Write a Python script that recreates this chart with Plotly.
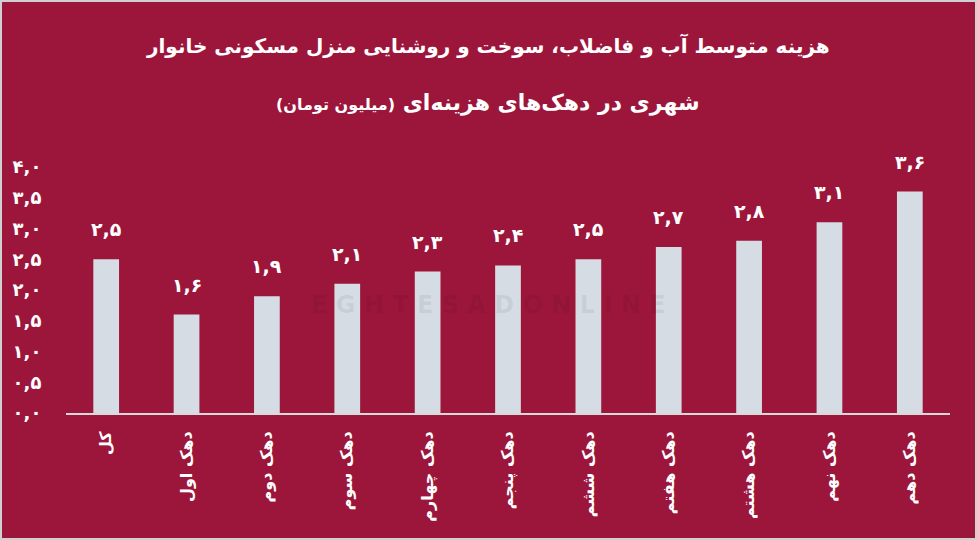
import plotly.graph_objects as go

categories = ["کل", "دهک اول", "دهک دوم", "دهک سوم", "دهک چهارم", "دهک پنجم",
              "دهک ششم", "دهک هفتم", "دهک هشتم", "دهک نهم", "دهک دهم"]
values = [2.5, 1.6, 1.9, 2.1, 2.3, 2.4, 2.5, 2.7, 2.8, 3.1, 3.6]
value_labels = ["۲,۵", "۱,۶", "۱,۹", "۲,۱", "۲,۳", "۲,۴", "۲,۵", "۲,۷", "۲,۸", "۳,۱", "۳,۶"]
y_tick_vals = [0, 0.5, 1, 1.5, 2, 2.5, 3, 3.5, 4]
y_tick_text = ["۰,۰", "۰,۵", "۱,۰", "۱,۵", "۲,۰", "۲,۵", "۳,۰", "۳,۵", "۴,۰"]
title_line1 = "هزینه متوسط آب و فاضلاب، سوخت و روشنایی منزل مسکونی خانوار"
title_line2 = "شهری در دهک‌های هزینه‌ای"
title_unit = "(میلیون تومان)"

BG = "#9C163B"
BAR = "#D6DCE4"
FONT = "DejaVu Sans"

W, H = 977, 540
ML, MR, MT, MB = 66, 27, 167, 127

fig = go.Figure()
fig.add_trace(go.Bar(x=categories, y=values, marker_color=BAR, marker_line_width=0,
                     hoverinfo="skip"))

for c, v, t in zip(categories, values, value_labels):
    fig.add_annotation(x=c, y=v, text="<b>" + t + "</b>", showarrow=False, yshift=30,
                       font=dict(family=FONT, size=19, color="white"), xref="x", yref="y")

pw = W - ML - MR
ph = H - MT - MB
# title
fig.add_annotation(xref="paper", yref="paper", x=(488 - ML) / pw, y=(H - MB - 45) / ph,
                   text="<b>" + title_line1 + "</b>", showarrow=False,
                   font=dict(family=FONT, size=20, color="white"), xanchor="center", yanchor="middle")
fig.add_annotation(xref="paper", yref="paper", x=(488 - ML) / pw, y=(H - MB - 103) / ph,
                   text="<b>" + title_line2 + " <span style='font-size:16px'>" + title_unit + "</span></b>",
                   showarrow=False,
                   font=dict(family=FONT, size=22, color="white"), xanchor="center", yanchor="middle")

# faint watermark
fig.add_annotation(xref="paper", yref="paper", x=(488 - ML) / pw, y=(H - MB - 305) / ph,
                   text="<b>E G H T E S A D O N L I N E</b>", showarrow=False,
                   font=dict(family=FONT, size=24, color="rgba(0,0,0,0.07)"),
                   xanchor="center", yanchor="middle")

# frame
fig.add_shape(type="rect", xref="paper", yref="paper",
              x0=(1 - ML) / pw, x1=(W - 1 - ML) / pw,
              y0=(H - MB - (H - 1)) / ph, y1=(H - MB - 1) / ph,
              line=dict(color="#D0D0D0", width=2), layer="above")

fig.update_layout(
    width=W, height=H,
    margin=dict(l=ML, r=MR, t=MT, b=MB, pad=0),
    paper_bgcolor=BG, plot_bgcolor=BG,
    bargap=0.68,
    showlegend=False,
    font=dict(family=FONT, color="white"),
)
fig.update_xaxes(showgrid=False, zeroline=False, showline=True, linecolor="#D9D9D9", linewidth=2,
                 tickangle=-90, ticks="outside", ticklen=10, tickcolor="rgba(0,0,0,0)",
                 tickprefix="<b>", ticksuffix="</b>",
                 tickfont=dict(family=FONT, size=16, color="white"))
fig.update_yaxes(range=[0, 4], showgrid=False, zeroline=False, showline=False,
                 tickvals=y_tick_vals, ticktext=["<b>" + t + "</b>" for t in y_tick_text],
                 ticks="outside", ticklen=20, tickcolor="rgba(0,0,0,0)",
                 tickfont=dict(family=FONT, size=18, color="white"))

fig.write_html("out.html", config={"displayModeBar": False},
               post_script="document.body.style.margin='0';document.body.style.overflow='hidden';")
